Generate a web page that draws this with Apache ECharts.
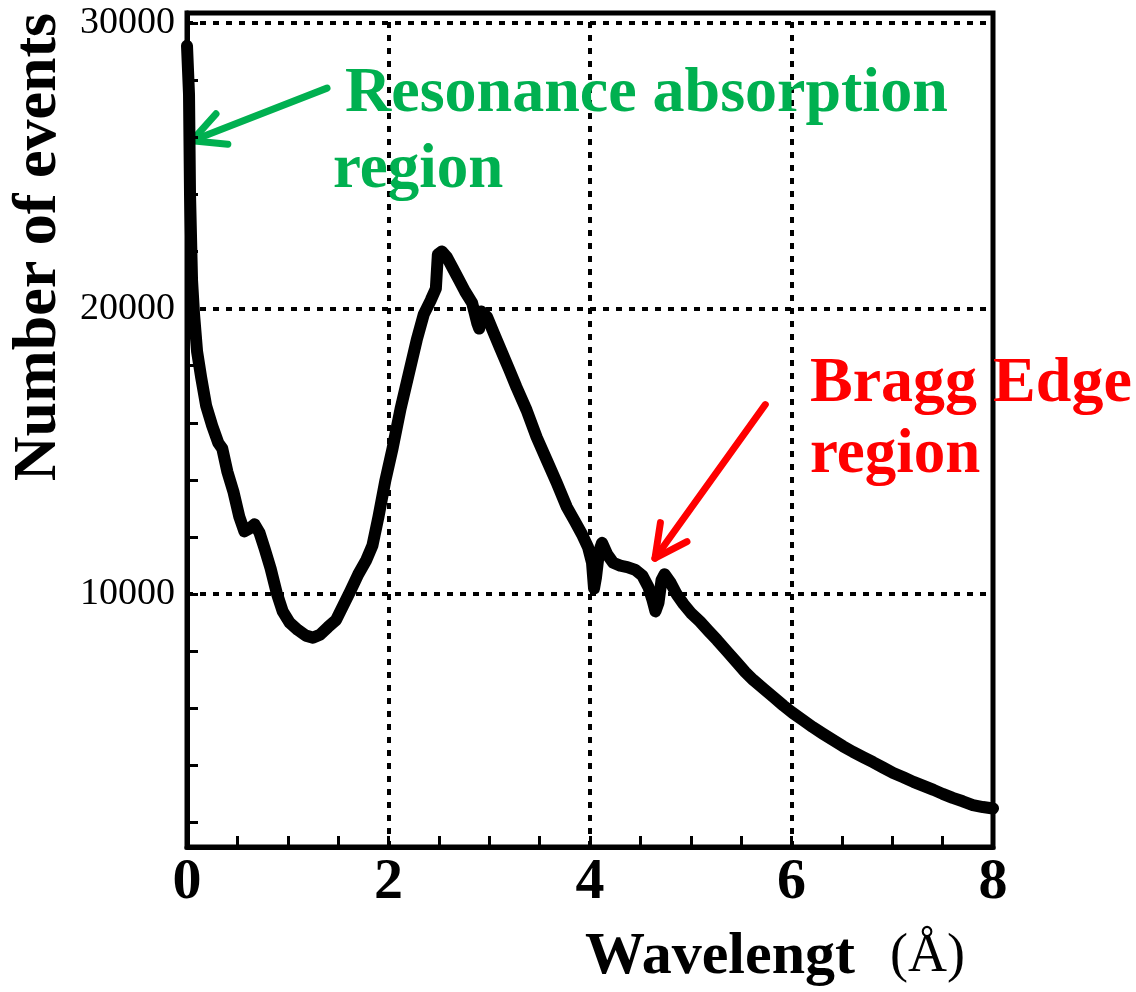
<!DOCTYPE html>
<html>
<head>
<meta charset="utf-8">
<script src="https://cdn.jsdelivr.net/npm/echarts@6/dist/echarts.min.js"></script>
<style>
  html, body { margin: 0; padding: 0; background: #ffffff; }
  #chart { width: 1136px; height: 992px; }
</style>
</head>
<body>
<div id="chart"></div>
<script>
// Neutron wavelength spectrum (histogram sampled at bin centres)
const wavelength = [
  0.00, 0.02, 0.03, 0.05, 0.07, 0.10, 0.14, 0.19, 0.25, 0.31,
  0.35, 0.40, 0.46, 0.52, 0.57, 0.62, 0.67, 0.72, 0.77, 0.83,
  0.89, 0.95, 1.02, 1.10, 1.18, 1.25, 1.32, 1.40, 1.48, 1.55,
  1.62, 1.70, 1.78, 1.84, 1.90, 1.97, 2.04, 2.12, 2.20, 2.28,
  2.35, 2.42, 2.47, 2.49, 2.53, 2.58, 2.64, 2.70, 2.76, 2.83,
  2.88, 2.90, 2.92, 2.98, 3.05, 3.11, 3.20, 3.27, 3.37, 3.47,
  3.57, 3.67, 3.77, 3.85, 3.92, 3.98, 4.02, 4.04, 4.06, 4.09,
  4.12, 4.17, 4.23, 4.30, 4.37, 4.45, 4.52, 4.58, 4.62, 4.65,
  4.68, 4.71, 4.74, 4.80, 4.86, 4.93, 5.00, 5.09, 5.18, 5.26,
  5.36, 5.46, 5.54, 5.62, 5.72, 5.82, 5.92, 6.01, 6.11, 6.21,
  6.31, 6.41, 6.51, 6.61, 6.71, 6.81, 6.91, 7.01, 7.11, 7.21,
  7.31, 7.41, 7.50, 7.60, 7.70, 7.80, 7.90, 8.00
];
const counts = [
  29200, 27500, 24000, 21000, 19800, 18500, 17600, 16600, 15900, 15300,
  15100, 14300, 13600, 12700, 12200, 12300, 12450, 12150, 11600, 10900,
  10050, 9400, 9000, 8750, 8550, 8480, 8580, 8850, 9100, 9600,
  10100, 10700, 11200, 11700, 12700, 14000, 15100, 16500, 17700, 18900,
  19800, 20300, 20700, 21900, 22000, 21800, 21400, 21000, 20600, 20200,
  19500, 19300, 19900, 19700, 19100, 18600, 17850, 17250, 16450, 15500,
  14700, 13900, 13050, 12550, 12100, 11650, 11100, 10200, 10600, 11500,
  11800, 11400, 11100, 11000, 10950, 10850, 10650, 10250, 9800, 9400,
  9700, 10500, 10700, 10400, 10000, 9650, 9350, 9050, 8700, 8400,
  8000, 7600, 7280, 7000, 6700, 6400, 6100, 5850, 5600, 5350,
  5120, 4900, 4680, 4480, 4300, 4120, 3930, 3740, 3590, 3430,
  3290, 3150, 3010, 2870, 2750, 2620, 2550, 2500
];

// Axis labels, ticks and reference grid
const xLabelValues = [0, 2, 4, 6, 8];
const yLabelValues = [10000, 20000, 30000];
const yTickValues = [2000, 4000, 6000, 8000, 10000, 12000, 14000, 16000,
                     18000, 20000, 22000, 24000, 26000, 28000, 30000];
const xGridValues = [2, 4, 6];
const yGridValues = [10000, 20000, 30000];

// Annotation arrows: [tail, tip] in data coordinates
const resonanceArrow = [[1.39, 27720], [0.05, 25880]];
const braggArrow = [[5.74, 16640], [4.645, 11260]];

const SERIF = '"Liberation Serif", "Times New Roman", serif';
const GREEN = '#00B050';
const RED = '#FF0000';

const chart = echarts.init(document.getElementById('chart'), null, { renderer: 'canvas' });

const gridLineData = []
  .concat(xGridValues.map(v => ({ xAxis: v })))
  .concat(yGridValues.map(v => ({ yAxis: v })));

chart.setOption({
  animation: false,
  backgroundColor: '#ffffff',
  grid: {
    left: 187, right: 143, top: 13, bottom: 145,
    show: true, borderColor: '#000', borderWidth: 5, backgroundColor: 'transparent'
  },
  xAxis: {
    type: 'value', min: 0, max: 8, interval: 0.5,
    axisLine: { show: true, onZero: false, lineStyle: { color: '#000', width: 5 } },
    axisTick: { show: true, inside: true, length: 11, lineStyle: { color: '#000', width: 3 } },
    axisLabel: {
      show: true, customValues: xLabelValues, margin: 7,
      color: '#000', fontFamily: SERIF, fontWeight: 'bold', fontSize: 58,
      formatter: v => String(v)
    },
    splitLine: { show: false }
  },
  yAxis: {
    type: 'value', min: 1150, max: 30350,
    axisLine: { show: true, onZero: false, lineStyle: { color: '#000', width: 5 } },
    axisTick: { show: true, inside: true, length: 11, customValues: yTickValues,
                lineStyle: { color: '#000', width: 3 } },
    axisLabel: {
      show: true, customValues: yLabelValues, margin: 12,
      color: '#000', fontFamily: SERIF, fontSize: 38,
      formatter: v => String(v)
    },
    splitLine: { show: false }
  },
  series: [
    {
      // dotted reference grid at the major ticks
      type: 'line', data: [], z: 1, silent: true,
      markLine: {
        silent: true, symbol: ['none', 'none'], label: { show: false },
        lineStyle: { color: '#000', width: 4, type: [6, 7] },
        emphasis: { disabled: true },
        data: gridLineData
      }
    },
    {
      type: 'line', z: 3, showSymbol: false, smooth: false,
      data: wavelength.map((w, i) => [w, counts[i]]),
      lineStyle: { color: '#000', width: 12, join: 'round', cap: 'round' },
      emphasis: { disabled: true }
    }
  ]
});

function arrowGraphic(pair, color) {
  const tail = chart.convertToPixel({ gridIndex: 0 }, pair[0]);
  const tip = chart.convertToPixel({ gridIndex: 0 }, pair[1]);
  const ang = Math.atan2(tail[1] - tip[1], tail[0] - tip[0]);
  const spread = 27 * Math.PI / 180;
  const len = 36;
  const b1 = [tip[0] + len * Math.cos(ang - spread), tip[1] + len * Math.sin(ang - spread)];
  const b2 = [tip[0] + len * Math.cos(ang + spread), tip[1] + len * Math.sin(ang + spread)];
  const style = { stroke: color, lineWidth: 7, lineCap: 'round', lineJoin: 'round', fill: null };
  return {
    type: 'group', silent: true, z: 10,
    children: [
      { type: 'polyline', shape: { points: [tail, tip] }, style: style },
      { type: 'polyline', shape: { points: [b1, tip, b2] }, style: style }
    ]
  };
}

function label(text, x, y, opts) {
  return {
    type: 'text', x: x, y: y, silent: true, z: 10, rotation: opts.rotation || 0,
    style: {
      text: text, fill: opts.color || '#000',
      font: (opts.weight || 'bold') + ' ' + opts.size + 'px ' + SERIF,
      align: opts.align || 'left', verticalAlign: 'middle'
    }
  };
}

chart.setOption({
  graphic: [
    arrowGraphic(resonanceArrow, GREEN),
    arrowGraphic(braggArrow, RED),
    label('Resonance absorption', 345, 94, { size: 64, color: GREEN }),
    label('region', 333, 171, { size: 63, color: GREEN }),
    label('Bragg Edge', 810, 384, { size: 64, color: RED }),
    label('region', 810, 456, { size: 63, color: RED }),
    label('Number of events', 39, 247, { size: 62, align: 'center', rotation: Math.PI / 2 }),
    label('Wavelengt', 855, 957, { size: 60, align: 'right' }),
    label('(Å)', 890, 957, { size: 54, weight: 'normal' })
  ]
});
</script>
</body>
</html>
